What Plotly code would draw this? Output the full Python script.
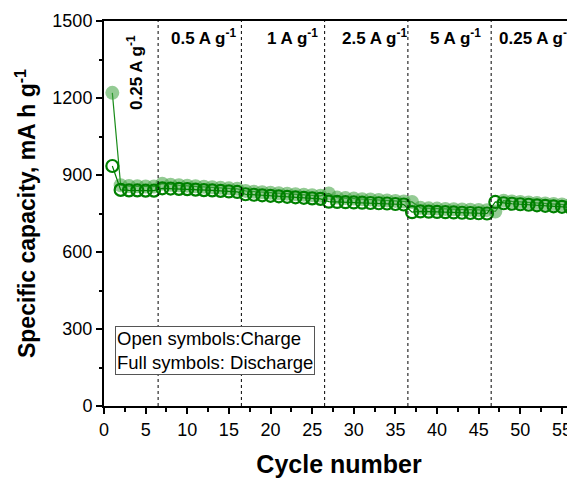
import plotly.graph_objects as go

cycles = list(range(1, 57))
charge = [935,
          842, 840, 840, 839, 839,
          848, 847, 846, 845, 843, 841, 840, 838, 836, 834,
          825, 823, 821, 819, 817, 815, 813, 811, 809, 807,
          796, 795, 794, 793, 792, 791, 790, 789, 787, 785,
          755, 758, 757, 756, 755, 754, 753, 752, 751, 750,
          795, 790, 788, 786, 784, 782, 780, 778, 776, 774]
discharge = [1220,
             860, 857, 856, 855, 855,
             866, 862, 860, 858, 856, 854, 852, 850, 848, 846,
             838, 835, 833, 831, 829, 827, 825, 823, 821, 819,
             828, 812, 810, 808, 806, 805, 803, 801, 799, 797,
             795, 772, 770, 769, 768, 767, 766, 765, 764, 763,
             758, 800, 797, 795, 793, 791, 789, 787, 785, 783]

rate_boundaries = [6.5, 16.5, 26.5, 36.5, 46.5]
rate_labels = ["0.5 A g<sup>-1</sup>", "1 A g<sup>-1</sup>", "2.5 A g<sup>-1</sup>",
               "5 A g<sup>-1</sup>", "0.25 A g<sup>-1</sup>"]
rate_label_x = [11.9, 22.6, 32.5, 42.2, 52.0]
first_rate_label = "0.25 A g<sup>-1</sup>"

x_ticks = list(range(0, 60, 5))
y_ticks = [0, 300, 600, 900, 1200, 1500]

FONT = "Liberation Sans, Arial"

fig = go.Figure()
fig.add_trace(go.Scatter(
    x=cycles, y=discharge, mode="lines+markers",
    line=dict(color="rgba(0,128,0,0.9)", width=1.2),
    marker=dict(symbol="circle", size=14, color="rgba(60,160,60,0.55)",
                line=dict(width=0)),
    showlegend=False))
fig.add_trace(go.Scatter(
    x=cycles, y=charge, mode="lines+markers",
    line=dict(color="#008000", width=1.2),
    marker=dict(symbol="circle-open", size=12, color="#008000",
                line=dict(width=2.2, color="#008000")),
    showlegend=False))

for b in rate_boundaries:
    fig.add_shape(type="line", xref="x", yref="paper", x0=b, x1=b, y0=0, y1=1,
                  line=dict(color="black", width=1, dash="dot"))

for lab, xl in zip(rate_labels, rate_label_x):
    fig.add_annotation(x=xl, y=1437, xref="x", yref="y", text="<b>" + lab + "</b>",
                       showarrow=False, font=dict(size=17, color="black", family=FONT))
fig.add_annotation(x=3.8, y=1300, xref="x", yref="y", text="<b>" + first_rate_label + "</b>",
                   showarrow=False, textangle=-90,
                   font=dict(size=17, color="black", family=FONT))

fig.add_annotation(x=1.3, y=218, xref="x", yref="y", xanchor="left", yanchor="middle",
                   text="Open symbols:Charge<br>Full symbols: Discharge",
                   align="left", showarrow=False, bordercolor="#555", borderwidth=1,
                   borderpad=1, bgcolor="white",
                   font=dict(size=18.5, color="black", family=FONT))

axis_common = dict(showline=True, linecolor="black", linewidth=2, mirror=True,
                   ticks="outside", tickcolor="black", tickwidth=1.5, ticklen=6,
                   showgrid=False, zeroline=False, automargin=False,
                   tickfont=dict(size=18, color="black", family=FONT))

fig.update_xaxes(range=[0, 56.45], tickvals=x_ticks,
                 minor=dict(ticks="outside", ticklen=3.5, tickcolor="black", dtick=2.5, tick0=0),
                 title=dict(text="<b>Cycle number</b>", standoff=17,
                            font=dict(size=25, color="black", family=FONT)),
                 **axis_common)
fig.update_yaxes(range=[0, 1500], tickvals=y_ticks,
                 minor=dict(ticks="outside", ticklen=3.5, tickcolor="black", dtick=150, tick0=0),
                 title=dict(text="<b>Specific capacity, mA h g<sup>-1</sup></b>", standoff=10,
                            font=dict(size=23, color="black", family=FONT)),
                 **axis_common)

# page body has an 8px default margin; size the figure to compensate
fig.update_layout(width=567, height=471, plot_bgcolor="white", paper_bgcolor="white",
                  margin=dict(l=96, r=1, t=13, b=73))

fig.write_html("out.html")
